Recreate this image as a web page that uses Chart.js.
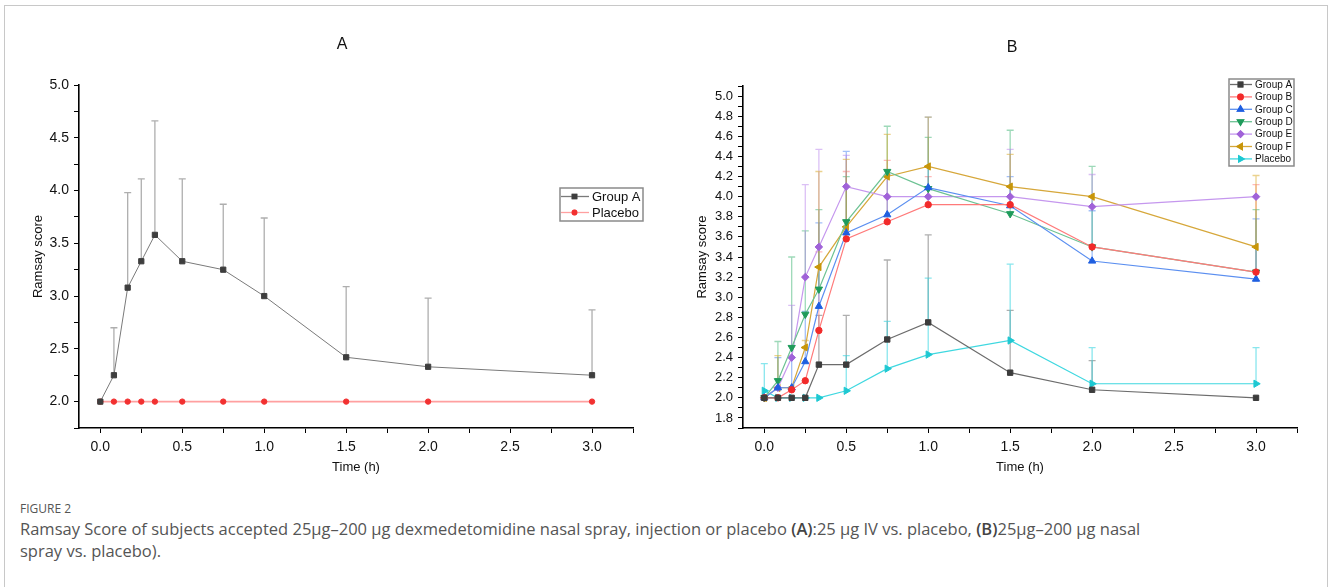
<!DOCTYPE html>
<html>
<head>
<meta charset="utf-8">
<script src="https://cdn.jsdelivr.net/npm/chart.js@4.4.1/dist/chart.umd.min.js"></script>
<style>
  html, body { margin:0; padding:0; background:#fff; }
  body { width:1328px; height:587px; position:relative; overflow:hidden; }
  #frame { position:absolute; left:4px; top:5px; width:1322px; height:600px; border:1px solid #c8c8c8; border-bottom:none; }
  #wa { position:absolute; left:0; top:0; width:664px; height:480px; }
  #wb { position:absolute; left:680px; top:0; width:640px; height:480px; }
  #cap { position:absolute; left:20px; top:501px; font-family:'Open Sans', sans-serif; color:#555; }
  #cap .t { font-size:12px; line-height:16px; }
  #cap .d { font-size:16.5px; line-height:22px; margin-top:1px; white-space:nowrap; }
  #cap b { font-weight:600; color:#444; }
</style>
</head>
<body>
<div id="frame"></div>
<div id="wa"><canvas id="ca" width="664" height="480"></canvas></div>
<div id="wb"><canvas id="cb" width="640" height="480"></canvas></div>
<div id="cap">
  <div class="t">FIGURE 2</div>
  <div class="d">Ramsay Score of subjects accepted 25µg–200 µg dexmedetomidine nasal spray, injection or placebo <b>(A)</b>:25 µg IV vs. placebo, <b>(B)</b>25µg–200 µg nasal<br>spray vs. placebo).</div>
</div>
<script>
// ---------------- DATA ----------------
const timePoints = [0, 0.083, 0.167, 0.25, 0.333, 0.5, 0.75, 1.0, 1.5, 2.0, 3.0];

// Panel A
const panelATitle = "A";
const aGroupA      = [2.0, 2.25, 3.08, 3.33, 3.58, 3.33, 3.25, 3.0, 2.42, 2.33, 2.25];
const aGroupAUpper = [null, 2.70, 3.98, 4.11, 4.66, 4.11, 3.87, 3.74, 3.09, 2.98, 2.87];
const aPlacebo     = [2.0, 2.0, 2.0, 2.0, 2.0, 2.0, 2.0, 2.0, 2.0, 2.0, 2.0];

// Panel B
const panelBTitle = "B";
const seriesNamesB = ["Group A", "Group B", "Group C", "Group D", "Group E", "Group F", "Placebo"];
const bGroupA  = [2.0, 2.0, 2.0, 2.0, 2.33, 2.33, 2.58, 2.75, 2.25, 2.08, 2.0];
const bGroupB  = [2.0, 2.0, 2.08, 2.17, 2.67, 3.58, 3.75, 3.92, 3.92, 3.5, 3.25];
const bGroupC  = [2.0, 2.1, 2.1, 2.36, 2.91, 3.64, 3.82, 4.09, 3.91, 3.36, 3.18];
const bGroupD  = [2.0, 2.17, 2.5, 2.83, 3.08, 3.75, 4.25, 4.08, 3.83, 3.5, 3.25];
const bGroupE  = [2.0, 2.1, 2.4, 3.2, 3.5, 4.1, 4.0, 4.0, 4.0, 3.9, 4.0];
const bGroupF  = [2.0, 2.1, 2.1, 2.5, 3.3, 3.7, 4.2, 4.3, 4.1, 4.0, 3.5];
const bPlacebo = [2.07, 2.0, 2.0, 2.0, 2.0, 2.07, 2.29, 2.43, 2.57, 2.14, 2.14];

const bGroupAUpper  = [null, null, null, null, 2.82, 2.82, 3.37, 3.62, 2.87, 2.37, null];
const bGroupBUpper  = [null, null, null, null, 3.45, 4.25, 4.36, 4.20, null, null, 4.12];
const bGroupCUpper  = [null, 2.40, 2.40, 2.86, 3.74, 4.45, 4.22, 4.79, 4.20, 3.86, 3.78];
const bGroupDUpper  = [null, 2.56, 3.40, 3.66, 3.87, 4.20, 4.70, 4.59, 4.66, 4.30, 3.87];
const bGroupEUpper  = [null, null, 2.92, 4.12, 4.47, 4.41, null, null, 4.47, 4.22, null];
const bGroupFUpper  = [null, 2.42, null, 2.57, 4.25, 4.37, 4.62, 4.79, 4.42, null, 4.21];
const bPlaceboUpper = [2.34, null, null, null, null, 2.42, 2.76, 3.19, 3.33, 2.50, 2.50];

// ---------------- HELPERS ----------------
const FONT = "'Liberation Sans', Arial, sans-serif";
function pts(vals) { return timePoints.map((t, i) => ({x: t, y: vals[i]})); }

const errorBarPlugin = {
  id: 'errorBars',
  beforeDatasetsDraw(chart) {
    const ctx = chart.ctx, xs = chart.scales.x, ys = chart.scales.y;
    chart.data.datasets.forEach(ds => {
      if (!ds.upper) return;
      ctx.save();
      ctx.strokeStyle = ds.errColor;
      ctx.lineWidth = 1.3;
      ds.data.forEach((p, i) => {
        const u = ds.upper[i];
        if (u == null) return;
        const x = xs.getPixelForValue(p.x);
        const y0 = ys.getPixelForValue(p.y);
        const y1 = ys.getPixelForValue(u);
        ctx.beginPath();
        ctx.moveTo(x, y0); ctx.lineTo(x, y1);
        ctx.moveTo(x - 3.5, y1); ctx.lineTo(x + 3.5, y1);
        ctx.stroke();
      });
      ctx.restore();
    });
  }
};

function makeOverlay(cfg) {
  return {
    id: 'overlay',
    afterDraw(chart) {
      const ctx = chart.ctx;
      ctx.save();
      ctx.fillStyle = '#111';
      ctx.font = `16px ${FONT}`;
      ctx.textAlign = 'center';
      ctx.textBaseline = 'middle';
      ctx.fillText(cfg.title, cfg.titleX, cfg.titleY);
      const L = cfg.legend;
      ctx.strokeStyle = '#8a8a8a';
      ctx.lineWidth = 1.5;
      ctx.strokeRect(L.x, L.y, L.w, L.h);
      ctx.font = `${L.font}px ${FONT}`;
      ctx.textAlign = 'left';
      chart.data.datasets.forEach((ds, i) => {
        const yy = L.y + L.first + i * L.step;
        ctx.strokeStyle = ds.borderColor;
        ctx.lineWidth = 1.3;
        ctx.beginPath();
        ctx.moveTo(L.x + 1, yy); ctx.lineTo(L.x + L.lineW, yy);
        ctx.stroke();
        Chart.helpers.drawPoint(ctx, {
          pointStyle: ds.pointStyle, rotation: ds.pointRotation || 0,
          radius: ds.pointRadius * 0.85, borderWidth: 1
        }, L.x + L.lineW / 2, yy);
        ctx.fillStyle = ds.pointBackgroundColor;
        ctx.strokeStyle = ds.pointBorderColor;
        ctx.fill();
        ctx.stroke();
        ctx.fillStyle = '#111';
        ctx.textBaseline = 'middle';
        ctx.fillText(ds.label, L.x + L.lineW + 3, yy + 0.5);
      });
      ctx.restore();
    }
  };
}

function axisCommon(o) {
  return {
    type: 'linear',
    min: o.min, max: o.max,
    border: { display: true, color: '#000', width: 1.6 },
    grid: { display: true, drawOnChartArea: false, drawTicks: true, tickLength: 5, color: '#000', tickWidth: 1 },
    ticks: {
      stepSize: o.step, includeBounds: false, autoSkip: false, maxRotation: 0,
      color: '#111', font: { family: FONT, size: o.fontSize }, padding: o.tickPad,
      callback: o.cb
    },
    title: { display: true, text: o.title, color: '#111', font: { family: FONT, size: 13 }, padding: o.titlePad },
    afterFit: o.fit
  };
}

function makeChart(el, datasets, o) {
  return new Chart(document.getElementById(el), {
    type: 'line',
    data: { datasets },
    options: {
      responsive: false, animation: false,
      layout: { padding: { left: 0, right: o.padRight, top: o.padTop, bottom: 0 } },
      plugins: { legend: { display: false }, tooltip: { enabled: false }, title: { display: false } },
      elements: { line: { tension: 0 } },
      scales: {
        x: axisCommon({
          min: -0.13, max: 3.25, step: 0.25, fontSize: o.xFont, tickPad: 6,
          cb: v => (Math.round(v * 4) % 2 === 0 ? v.toFixed(1) : ''),
          title: 'Time (h)', titlePad: { top: 0, bottom: 5 },
          fit: s => { s.height = 52; }
        }),
        y: axisCommon(Object.assign({
          title: 'Ramsay score', tickPad: 5,
          fit: s => { s.width = o.yWidth; }
        }, o.y))
      }
    },
    plugins: [errorBarPlugin, makeOverlay(o.overlay)]
  });
}

// ---------------- PANEL A ----------------
makeChart('ca', [
  {
    label: 'Group A', data: pts(aGroupA), upper: aGroupAUpper, errColor: 'rgba(120,120,120,0.6)',
    borderColor: '#7a7a7a', borderWidth: 1,
    pointStyle: 'rect', pointRadius: 3.7, pointBackgroundColor: '#3e3e3e', pointBorderColor: '#3e3e3e', pointBorderWidth: 1
  },
  {
    label: 'Placebo', data: pts(aPlacebo),
    borderColor: '#ffa0a0', borderWidth: 1.6,
    pointStyle: 'circle', pointRadius: 2.7, pointBackgroundColor: '#f23030', pointBorderColor: '#f23030', pointBorderWidth: 1
  }
], {
  padRight: 31, padTop: 85, yWidth: 79, xFont: 14,
  y: { min: 1.75, max: 5.0, step: 0.25, fontSize: 14, titlePad: { top: 31, bottom: 0 },
       cb: v => (Math.round(v * 4) % 2 === 0 ? v.toFixed(1) : '') },
  overlay: {
    title: panelATitle, titleX: 342, titleY: 45,
    legend: { x: 560, y: 188, w: 83, h: 33, first: 8.5, step: 16, lineW: 29, font: 13 }
  }
});

// ---------------- PANEL B ----------------
const bSeries = [bGroupA, bGroupB, bGroupC, bGroupD, bGroupE, bGroupF, bPlacebo];
const bUppers = [bGroupAUpper, bGroupBUpper, bGroupCUpper, bGroupDUpper, bGroupEUpper, bGroupFUpper, bPlaceboUpper];
const bStyles = [
  { line: '#6c6c6c', mark: '#3c3c3c', err: 'rgba(110,110,110,0.55)', ps: 'rect', r: 3.8, rot: 0 },
  { line: '#ff7a7a', mark: '#f22a2a', err: 'rgba(255,100,100,0.45)', ps: 'circle', r: 3.2, rot: 0 },
  { line: '#5b8ff0', mark: '#1f5fe0', err: 'rgba(50,115,240,0.45)', ps: 'triangle', r: 4.2, rot: 0 },
  { line: '#6cc293', mark: '#1f9b5b', err: 'rgba(40,170,100,0.45)', ps: 'triangle', r: 4.2, rot: 180 },
  { line: '#c597ee', mark: '#a062d8', err: 'rgba(175,115,232,0.45)', ps: 'rectRot', r: 3.8, rot: 0 },
  { line: '#d6a73a', mark: '#c8960a', err: 'rgba(215,165,30,0.5)', ps: 'triangle', r: 4.2, rot: -90 },
  { line: '#3fd8e0', mark: '#1ec8d2', err: 'rgba(40,210,222,0.55)', ps: 'triangle', r: 4.2, rot: 90 }
];
makeChart('cb', seriesNamesB.map((name, i) => ({
  label: name, data: pts(bSeries[i]), upper: bUppers[i], errColor: bStyles[i].err,
  borderColor: bStyles[i].line, borderWidth: 1.2,
  pointStyle: bStyles[i].ps, pointRotation: bStyles[i].rot, pointRadius: bStyles[i].r,
  pointBackgroundColor: bStyles[i].mark, pointBorderColor: bStyles[i].mark, pointBorderWidth: 1
})), {
  padRight: 23, padTop: 86, yWidth: 63, xFont: 14,
  y: { min: 1.7, max: 5.1, step: 0.1, fontSize: 13, titlePad: { top: 15, bottom: 0 },
       cb: v => (Math.round(v * 10) % 2 === 0 ? v.toFixed(1) : '') },
  overlay: {
    title: panelBTitle, titleX: 332, titleY: 48,
    legend: { x: 549, y: 79, w: 65, h: 87, first: 5.5, step: 12.4, lineW: 23, font: 10 }
  }
});
</script>
</body>
</html>
